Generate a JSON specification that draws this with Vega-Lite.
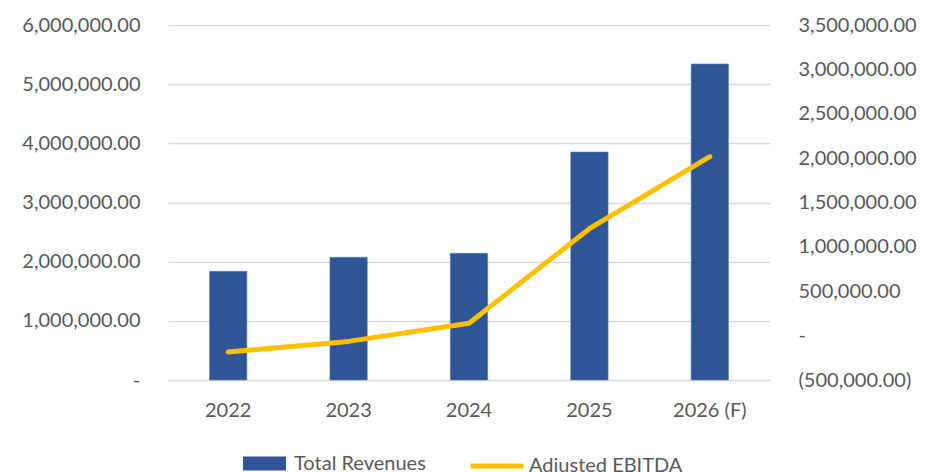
{
  "$schema": "https://vega.github.io/schema/vega-lite/v6.json",
  "autosize": "none",
  "width": 602,
  "height": 355,
  "padding": {"left": 168, "top": 25, "right": 156, "bottom": 92},
  "background": "white",
  "config": {
    "view": {"stroke": null},
    "font": "Lato",
    "axis": {"labelFont": "Lato", "labelFontSize": 20, "labelColor": "#595959", "domain": false, "ticks": false, "title": null},
    "legend": {"labelFont": "Lato", "labelFontSize": 20, "labelColor": "#595959", "padding": 0, "title": null}
  },
  "data": {
    "values": [
      {"year": "2022", "revenue": 1837000, "ebitda": -185000},
      {"year": "2023", "revenue": 2074000, "ebitda": -65000},
      {"year": "2024", "revenue": 2141000, "ebitda": 139000},
      {"year": "2025", "revenue": 3853000, "ebitda": 1205000},
      {"year": "2026 (F)", "revenue": 5341000, "ebitda": 2016000}
    ]
  },
  "encoding": {
    "x": {
      "field": "year", "type": "ordinal", "sort": null,
      "scale": {"paddingInner": 0.69, "paddingOuter": 0.345},
      "axis": {"labelAngle": 0, "labelPadding": 20, "grid": false}
    }
  },
  "layer": [
    {
      "mark": {"type": "bar", "color": "#2F5597", "stroke": "#5B7DBA", "strokeWidth": 0.6},
      "encoding": {
        "y": {
          "field": "revenue", "type": "quantitative",
          "scale": {"domain": [0, 6000000], "nice": false},
          "axis": {
            "orient": "left",
            "values": [0, 1000000, 2000000, 3000000, 4000000, 5000000, 6000000],
            "labelExpr": "datum.value == 0 ? '-\u00a0\u00a0\u00a0' : format(datum.value, ',.2f')",
            "labelPadding": 28,
            "grid": true, "gridColor": "#D9D9D9", "gridWidth": 1.3
          }
        },
        "fill": {
          "datum": "Total Revenues",
          "scale": {"range": ["#2F5597"]},
          "legend": {
            "orient": "none", "legendX": 75, "legendY": 417,
            "symbolType": "M-1,-0.33H1V0.33H-1Z", "symbolSize": 1849,
            "symbolStrokeWidth": 0, "labelOffset": 8
          }
        }
      }
    },
    {
      "mark": {"type": "line", "color": "#FFC000", "strokeWidth": 5, "strokeCap": "round", "strokeJoin": "round"},
      "encoding": {
        "y": {
          "field": "ebitda", "type": "quantitative",
          "scale": {"domain": [-500000, 3500000], "nice": false},
          "axis": {
            "orient": "right",
            "values": [-500000, 0, 500000, 1000000, 1500000, 2000000, 2500000, 3000000, 3500000],
            "labelExpr": "datum.value == 0 ? '-' : (datum.value < 0 ? '(' + format(-datum.value, ',.2f') + ')' : format(datum.value, ',.2f'))",
            "labelPadding": 28,
            "grid": false
          }
        },
        "stroke": {
          "datum": "Adjusted EBITDA",
          "scale": {"range": ["#FFC000"]},
          "legend": {
            "orient": "none", "legendX": 300, "legendY": 412,
            "symbolType": "stroke", "symbolSize": 2809,
            "symbolStrokeWidth": 5, "labelOffset": 3
          }
        }
      }
    }
  ],
  "resolve": {"scale": {"y": "independent"}}
}
